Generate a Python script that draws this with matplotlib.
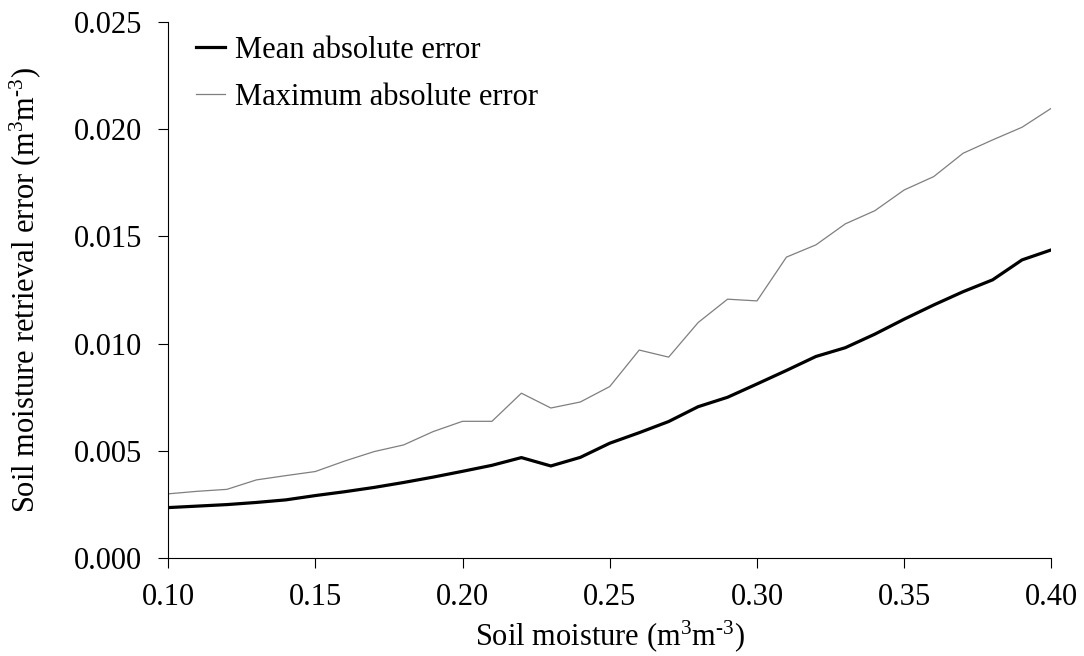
import matplotlib
matplotlib.use('Agg')
import matplotlib.pyplot as plt
import numpy as np

plt.rcParams['font.family'] = 'Liberation Serif'
plt.rcParams['mathtext.fontset'] = 'custom'
plt.rcParams['mathtext.rm'] = 'Liberation Serif'
plt.rcParams['mathtext.default'] = 'regular'

soil_moisture = [0.10, 0.11, 0.12, 0.13, 0.14, 0.15, 0.16, 0.17, 0.18, 0.19, 0.20,
                 0.21, 0.22, 0.23, 0.24, 0.25, 0.26, 0.27, 0.28, 0.29, 0.30,
                 0.31, 0.32, 0.33, 0.34, 0.35, 0.36, 0.37, 0.38, 0.39, 0.40]
mean_err = [0.00236, 0.00243, 0.00250, 0.00260, 0.00272, 0.00292, 0.00310, 0.00330, 0.00353, 0.00378, 0.00405,
            0.00433, 0.00469, 0.00430, 0.00470, 0.00536, 0.00585, 0.00637, 0.00706, 0.00750, 0.00812,
            0.00875, 0.00940, 0.00981, 0.01044, 0.01114, 0.01180, 0.01242, 0.01297, 0.01390, 0.01437]
max_err = [0.00300, 0.00312, 0.00321, 0.00365, 0.00385, 0.00404, 0.00453, 0.00497, 0.00528, 0.00590, 0.00638,
           0.00638, 0.00769, 0.00700, 0.00728, 0.00800, 0.00970, 0.00937, 0.01098, 0.01207, 0.01199,
           0.01403, 0.01460, 0.01558, 0.01619, 0.01716, 0.01778, 0.01887, 0.01949, 0.02008, 0.02097]

fig = plt.figure(figsize=(10.84, 6.56), dpi=100)
ax = fig.add_axes([0.155, 0.149, 0.815, 0.818])

ax.plot(soil_moisture, mean_err, color='black', lw=2.3, label='Mean absolute error')
ax.plot(soil_moisture, max_err, color='#7f7f7f', lw=0.9, label='Maximum absolute error')

ax.set_xlim(0.10, 0.40)
ax.set_ylim(0, 0.025)
ax.set_xticks(np.arange(0.10, 0.401, 0.05))
ax.set_yticks(np.arange(0, 0.0251, 0.005))
ax.xaxis.set_major_formatter(matplotlib.ticker.FormatStrFormatter('%.2f'))
ax.yaxis.set_major_formatter(matplotlib.ticker.FormatStrFormatter('%.3f'))
ax.spines['top'].set_visible(False)
ax.spines['right'].set_visible(False)
for s in ['left', 'bottom']:
    ax.spines[s].set_linewidth(0.8)
ax.tick_params(labelsize=22, length=7.5, width=0.8, direction='out')
ax.tick_params(axis='x', pad=10)
ax.tick_params(axis='y', pad=11)

unit = r'(m$^{3}$m$^{\text{-}3}$)'
ax.set_xlabel('Soil moisture ' + unit, fontsize=22, labelpad=5)
ax.set_ylabel('Soil moisture retrieval error ' + unit, fontsize=22, labelpad=22)

ax.legend(loc='upper left', frameon=False, fontsize=22, handlelength=0.93,
          handletextpad=0.33, labelspacing=0.6, borderaxespad=0.0,
          borderpad=0.2, bbox_to_anchor=(0.025, 0.985))

fig.savefig('out.png', dpi=100)
